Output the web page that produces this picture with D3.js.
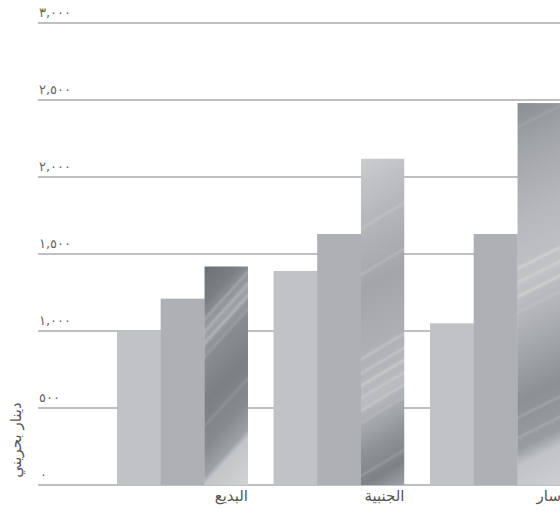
<!DOCTYPE html>
<html lang="ar">
<head>
<meta charset="utf-8">
<script src="https://cdn.jsdelivr.net/npm/d3@7"></script>
<style>
  html, body { margin: 0; padding: 0; background: #fff; }
  svg { display: block; overflow: hidden; }
</style>
</head>
<body>
<svg id="chart" width="560" height="518"></svg>
<script>
// Regions along the x axis
const categories = ["البديع", "الجنبية", "سار"];
// Three series per region (Bahraini dinars)
const seriesA = [1000, 1390, 1050];
const seriesB = [1210, 1630, 1630];
const seriesC = [1420, 2120, 2480];
// Value axis
const yTicks = [0, 500, 1000, 1500, 2000, 2500, 3000];
const yTickLabels = ["٠", "٥٠٠", "١,٠٠٠", "١,٥٠٠", "٢,٠٠٠", "٢,٥٠٠", "٣,٠٠٠"];
const yTitle = "دينار بحريني";

// ---- styling ----
const FONT = "'DejaVu Sans', sans-serif";
const flatFills = ["#c0c2c6", "#aeb0b5"];
// Brushed-metal look for the third series: gradient stops along a slanted
// direction plus soft light streaks running along the slant
// (streak: [position across, opacity, width]).
const sheens = [
  { slope: -1.1,
    stops: [[0, "#6c7074"], [0.14, "#7b7f83"], [0.26, "#9ea2a6"], [0.36, "#888c90"],
            [0.52, "#7c8084"], [0.68, "#858a8e"], [0.79, "#9da1a5"], [0.82, "#c3c5c8"], [1, "#d0d2d4"]],
    streaks: [[0.2, 0.25, 2], [0.245, 0.45, 1.2], [0.29, 0.3, 2.5], [0.34, 0.2, 1.5], [0.6, 0.15, 2]] },
  { slope: -0.6,
    stops: [[0, "#cacccf"], [0.18, "#b5b7bb"], [0.38, "#a3a5a9"], [0.55, "#adafb3"],
            [0.7, "#b9bbbe"], [0.84, "#8f9397"], [0.93, "#7e8286"], [1, "#9fa2a6"]],
    streaks: [[0.2, 0.25, 1.5], [0.33, 0.3, 1.2], [0.57, 0.3, 2], [0.61, 0.4, 1.2], [0.645, 0.3, 2.5],
              [0.68, 0.35, 1.2], [0.715, 0.3, 1.8], [0.75, 0.25, 1.2], [0.9, 0.25, 1.5]] },
  { slope: -0.5,
    stops: [[0, "#8a8e92"], [0.12, "#a2a5a8"], [0.3, "#b6b8bb"], [0.45, "#c1c3c6"],
            [0.6, "#a8abae"], [0.74, "#8c9094"], [0.86, "#989ca0"], [0.9, "#c0c2c5"], [1, "#cdd0d2"]],
    streaks: [[0.06, 0.2, 1.5], [0.41, 0.35, 2], [0.445, 0.4, 1.2], [0.48, 0.3, 2.5], [0.52, 0.25, 1.2],
              [0.78, 0.25, 1.5], [0.83, 0.2, 2]] }
];

const svg = d3.select("#chart");
const defs = svg.append("defs");
defs.append("filter").attr("id", "soft")
  .attr("x", "-20%").attr("y", "-20%").attr("width", "140%").attr("height", "140%")
  .append("feGaussianBlur").attr("stdDeviation", 1.1);

const y = d3.scaleLinear().domain([0, 3000]).range([485, 23]);
const x = d3.scaleBand().domain(categories)
  .range([104.25, 573.75]).paddingInner(0.163).paddingOuter(0.0815);
const xs = d3.scaleBand().domain([0, 1, 2]).range([0, x.bandwidth()]);

// gridlines
svg.append("g").selectAll("line").data(yTicks).join("line")
  .attr("x1", 38).attr("x2", 560)
  .attr("y1", d => y(d)).attr("y2", d => y(d))
  .attr("stroke", "#bfbfc2").attr("stroke-width", 2);

// tick labels
svg.append("g").selectAll("text").data(yTicks).join("text")
  .attr("x", (d, i) => i === 0 ? 40 : 39)
  .attr("y", d => y(d) - 6)
  .attr("font-family", FONT).attr("font-size", 13).attr("fill", "#666")
  .text((d, i) => yTickLabels[i]);

// axis title
svg.append("text")
  .attr("transform", "translate(21,440) rotate(-90)")
  .attr("text-anchor", "middle")
  .attr("font-family", FONT).attr("font-size", 15).attr("fill", "#555")
  .text(yTitle);

const rows = categories.map((c, i) => ({ cat: c, vals: [seriesA[i], seriesB[i], seriesC[i]] }));

const groups = svg.append("g").selectAll("g").data(rows).join("g")
  .attr("transform", d => `translate(${x(d.cat)},0)`);

// flat bars
groups.each(function(d) {
  const g = d3.select(this);
  [0, 1].forEach(k => {
    g.append("rect")
      .attr("x", xs(k)).attr("width", xs.bandwidth() + 0.5)
      .attr("y", y(d.vals[k])).attr("height", y(0) - y(d.vals[k]))
      .attr("fill", flatFills[k]);
  });
});

// metallic bars
groups.each(function(d, i) {
  const bx = xs(2) + x(d.cat), bw = xs.bandwidth(), by = y(d.vals[2]), bh = y(0) - y(d.vals[2]);
  const sh = sheens[i];
  // direction across the streaks
  const nx = -sh.slope, ny = 1, nl = Math.hypot(nx, ny);
  const ux = nx / nl, uy = ny / nl;
  const corners = [[bx, by], [bx + bw, by], [bx, by + bh], [bx + bw, by + bh]];
  const proj = corners.map(p => p[0] * ux + p[1] * uy);
  const tmin = d3.min(proj), tmax = d3.max(proj);
  const cx = bx + bw / 2, cy = by + bh / 2, tc = cx * ux + cy * uy;
  const p0 = [cx + ux * (tmin - tc), cy + uy * (tmin - tc)];
  const p1 = [cx + ux * (tmax - tc), cy + uy * (tmax - tc)];

  const gid = "metal" + i;
  const grad = defs.append("linearGradient").attr("id", gid)
    .attr("gradientUnits", "userSpaceOnUse")
    .attr("x1", p0[0]).attr("y1", p0[1]).attr("x2", p1[0]).attr("y2", p1[1]);
  grad.selectAll("stop").data(sh.stops).join("stop")
    .attr("offset", s => s[0]).attr("stop-color", s => s[1]);

  const cid = "clip" + i;
  defs.append("clipPath").attr("id", cid).append("rect")
    .attr("x", bx).attr("y", by).attr("width", bw).attr("height", bh);

  const mg = svg.append("g").attr("clip-path", `url(#${cid})`);
  mg.append("rect")
    .attr("x", bx).attr("y", by).attr("width", bw).attr("height", bh)
    .attr("fill", `url(#${gid})`);
  // streaks run perpendicular to the gradient direction
  const dx = uy, dy = -ux;
  const at = s => [p0[0] + (p1[0] - p0[0]) * s[0], p0[1] + (p1[1] - p0[1]) * s[0]];
  mg.append("g").attr("filter", "url(#soft)").selectAll("line").data(sh.streaks).join("line")
    .attr("x1", s => at(s)[0] - dx * 120).attr("y1", s => at(s)[1] - dy * 120)
    .attr("x2", s => at(s)[0] + dx * 120).attr("y2", s => at(s)[1] + dy * 120)
    .attr("stroke", "#ffffff").attr("stroke-opacity", s => s[1])
    .attr("stroke-width", s => s[2]);
});

// category labels, right-aligned to each group
svg.append("g").selectAll("text").data(categories).join("text")
  .attr("x", c => x(c) + x.bandwidth())
  .attr("y", 501)
  .attr("direction", "rtl")
  .attr("text-anchor", "start")
  .attr("font-family", FONT).attr("font-size", 15).attr("fill", "#555")
  .text(c => c);
</script>
</body>
</html>
